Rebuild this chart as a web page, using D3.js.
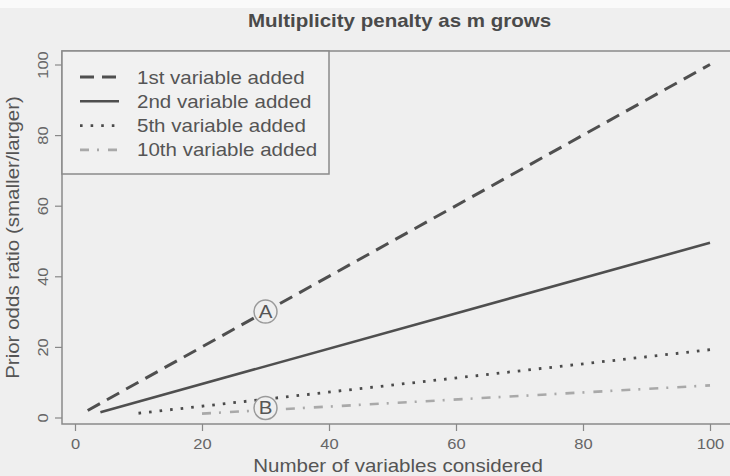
<!DOCTYPE html>
<html>
<head>
<meta charset="utf-8">
<script src="https://cdn.jsdelivr.net/npm/d3@7"></script>
<style>
  html, body { margin: 0; padding: 0; background: #efefef; }
  svg { display: block; }
  text { font-family: "Liberation Sans", Arial, Helvetica, sans-serif; }
</style>
</head>
<body>
<svg id="chart" width="730" height="476"></svg>
<script>
// ---- data ----
const seriesNames = ["1st variable added", "2nd variable added", "5th variable added", "10th variable added"];
const firstAddedM = [2, 100];
const firstAddedRatio = [2, 100];
const secondAddedM = [4, 100];
const secondAddedRatio = [1.5, 49.5];
const fifthAddedM = [10, 100];
const fifthAddedRatio = [1.2, 19.2];
const tenthAddedM = [20, 100];
const tenthAddedRatio = [1.1, 9.1];
const xTicks = [0, 20, 40, 60, 80, 100];
const yTicks = [0, 20, 40, 60, 80, 100];
const annotLabels = ["A", "B"];
const annotM = [30, 30];
const annotRatio = [30, 2.7];

const title = "Multiplicity penalty as m grows";
const xTitle = "Number of variables considered";
const yTitle = "Prior odds ratio (smaller/larger)";

// ---- layout ----
const W = 730, H = 476;
const SX = 1.14; // horizontal stretch of the lettering
const box = { left: 62, right: 732, top: 51, bottom: 424 };
const svg = d3.select("#chart");

const x = d3.scaleLinear().domain([0, 100]).range([75, 710]);
const y = d3.scaleLinear().domain([0, 100]).range([417.5, 64.5]);

const series = [
  { name: seriesNames[0], m: firstAddedM, r: firstAddedRatio, color: "#4f4f4f", width: 3, dash: "14,8" },
  { name: seriesNames[1], m: secondAddedM, r: secondAddedRatio, color: "#4f4f4f", width: 2.6, dash: null },
  { name: seriesNames[2], m: fifthAddedM, r: fifthAddedRatio, color: "#4a4a4a", width: 2.8, dash: "2.6,8" },
  { name: seriesNames[3], m: tenthAddedM, r: tenthAddedRatio, color: "#a9a9a9", width: 2.6, dash: "9,8,2,9" }
];

function stretchedText(g, tx, ty, str, size, anchor, rot) {
  return g.append("text")
    .attr("transform", `translate(${tx},${ty})${rot ? " rotate(" + rot + ")" : ""} scale(${SX},1)`)
    .attr("text-anchor", anchor)
    .attr("font-size", size)
    .text(str);
}

// background
svg.append("rect").attr("width", W).attr("height", H).attr("fill", "#efefef");
svg.append("rect").attr("width", W).attr("height", 8).attr("fill", "#fafafa");

// title
stretchedText(svg, 399.5, 27, title, 18, "middle")
  .attr("font-weight", "bold").attr("fill", "#4a4a4a");

// lines
const line = d3.line().x(d => x(d[0])).y(d => y(d[1]));
series.forEach(s => {
  const pts = s.m.map((m, i) => [m, s.r[i]]);
  svg.append("path")
    .attr("d", line(pts))
    .attr("fill", "none")
    .attr("stroke", s.color)
    .attr("stroke-width", s.width)
    .attr("stroke-dasharray", s.dash);
});

// annotations A, B
annotLabels.forEach((lab, i) => {
  const cx = x(annotM[i]), cy = y(annotRatio[i]);
  svg.append("circle")
    .attr("cx", cx).attr("cy", cy).attr("r", 11.5)
    .attr("fill", "#efefef").attr("stroke", "#9a9a9a").attr("stroke-width", 1.5);
  stretchedText(svg, cx, cy + 6.5, lab, 18, "middle").attr("fill", "#555");
});

// plot frame
svg.append("rect")
  .attr("x", box.left).attr("y", box.top)
  .attr("width", box.right - box.left).attr("height", box.bottom - box.top)
  .attr("fill", "none").attr("stroke", "#8a8a8a").attr("stroke-width", 1.5);

// x axis
const xAxis = d3.axisBottom(x).tickValues(xTicks).tickSize(7).tickPadding(5).tickSizeOuter(0);
const gx = svg.append("g").attr("transform", `translate(0,${box.bottom})`).call(xAxis);
gx.select(".domain").remove();
gx.selectAll(".tick line").attr("stroke", "#888").attr("stroke-width", 1.2);
gx.selectAll(".tick text")
  .attr("font-size", 15).attr("fill", "#666")
  .attr("font-family", "'Liberation Sans', Arial, sans-serif")
  .attr("y", null).attr("dy", null)
  .attr("transform", `translate(0,25) scale(1.1,1)`);

// y axis
const yAxis = d3.axisLeft(y).tickValues(yTicks).tickSize(7).tickPadding(6).tickSizeOuter(0);
const gy = svg.append("g").attr("transform", `translate(${box.left},0)`).call(yAxis);
gy.select(".domain").remove();
gy.selectAll(".tick line").attr("stroke", "#888").attr("stroke-width", 1.2);
gy.selectAll(".tick text")
  .attr("font-size", 15).attr("fill", "#666")
  .attr("font-family", "'Liberation Sans', Arial, sans-serif")
  .attr("text-anchor", "middle")
  .attr("dy", null)
  .attr("x", null)
  .attr("transform", "translate(-20,0) rotate(-90) scale(1.1,1)")
  .attr("y", 5.5);

// axis titles
stretchedText(svg, 398, 472, xTitle, 18, "middle").attr("fill", "#555");
stretchedText(svg, 19, 237.5, yTitle, 18, "middle", -90).attr("fill", "#555");

// legend
const lg = { left: 62, top: 51, right: 329, bottom: 174 };
svg.append("rect")
  .attr("x", lg.left).attr("y", lg.top)
  .attr("width", lg.right - lg.left).attr("height", lg.bottom - lg.top)
  .attr("fill", "#f1f1f1").attr("stroke", "#8a8a8a").attr("stroke-width", 1.5);
series.forEach((s, i) => {
  const yy = 77 + i * 24.3;
  svg.append("line")
    .attr("x1", 80).attr("x2", 119).attr("y1", yy).attr("y2", yy)
    .attr("stroke", s.color).attr("stroke-width", s.width)
    .attr("stroke-dasharray", s.dash);
  stretchedText(svg, 137, yy + 6.5, s.name, 18, "start").attr("fill", "#555");
});
</script>
</body>
</html>
